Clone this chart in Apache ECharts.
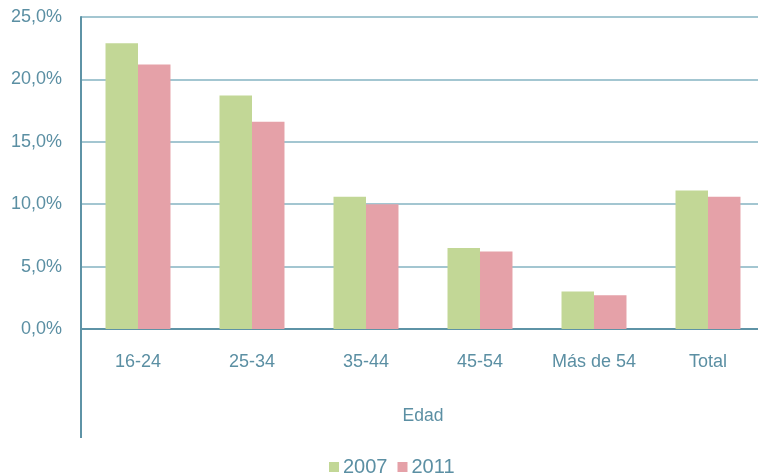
<!DOCTYPE html>
<html>
<head>
<meta charset="utf-8">
<script src="https://cdn.jsdelivr.net/npm/echarts@6/dist/echarts.min.js"></script>
<style>
  html, body { margin: 0; padding: 0; background: #fff; }
  #chart { width: 758px; height: 476px; }
</style>
</head>
<body>
<div id="chart"></div>
<script>
// Age groups and share per survey year (percent)
const categories = ['16-24', '25-34', '35-44', '45-54', 'Más de 54', 'Total'];
const values2007 = [22.9, 18.7, 10.6, 6.5, 3.0, 11.1];
const values2011 = [21.2, 16.6, 10.0, 6.2, 2.7, 10.6];
const seriesNames = ['2007', '2011'];

const textColor = '#5b8fa3';
const axisColor = '#5e93a6';
const gridColor = '#a3c6d1';
const font = '"Liberation Sans", Arial, Helvetica, sans-serif';

const chart = echarts.init(document.getElementById('chart'), null, { renderer: 'canvas' });

chart.setOption({
  animation: false,
  backgroundColor: '#ffffff',
  // plot area runs slightly past the right edge of the canvas
  grid: { left: 81, width: 684, top: 17, bottom: 147, containLabel: false, outerBoundsMode: 'none' },
  legend: {
    data: seriesNames,
    left: 324,
    bottom: -6,
    itemWidth: 10,
    itemHeight: 10,
    itemGap: 10,
    icon: 'rect',
    textStyle: { color: textColor, fontSize: 20, fontFamily: font, padding: [0, 0, 0, -1] }
  },
  xAxis: {
    type: 'category',
    data: categories,
    name: 'Edad',
    nameLocation: 'middle',
    nameGap: 78,
    nameTextStyle: { color: textColor, fontSize: 17.5, fontFamily: font },
    axisLine: { show: true, lineStyle: { color: axisColor, width: 2 } },
    axisTick: { show: false },
    axisLabel: { color: textColor, fontSize: 18, fontFamily: font, margin: 24, interval: 0 }
  },
  yAxis: {
    type: 'value',
    min: 0,
    max: 25,
    interval: 5,
    axisLine: { show: true, lineStyle: { color: axisColor, width: 2 } },
    axisTick: { show: false },
    splitLine: { show: true, lineStyle: { color: gridColor, width: 2 } },
    axisLabel: {
      color: textColor,
      fontSize: 18,
      fontFamily: font,
      margin: 19,
      formatter: v => v.toFixed(1).replace('.', ',') + '%'
    }
  },
  series: [
    {
      name: seriesNames[0],
      type: 'bar',
      data: values2007,
      barGap: 0,
      barCategoryGap: '43%',
      itemStyle: { color: '#c2d796' }
    },
    {
      name: seriesNames[1],
      type: 'bar',
      data: values2011,
      barGap: 0,
      barCategoryGap: '43%',
      itemStyle: { color: '#e5a1a8' }
    }
  ],
  graphic: [
    {
      // left axis line continues down past the category labels
      type: 'line',
      shape: { x1: 81, y1: 329, x2: 81, y2: 438 },
      style: { stroke: axisColor, lineWidth: 2 },
      silent: true
    }
  ]
});
</script>
</body>
</html>
